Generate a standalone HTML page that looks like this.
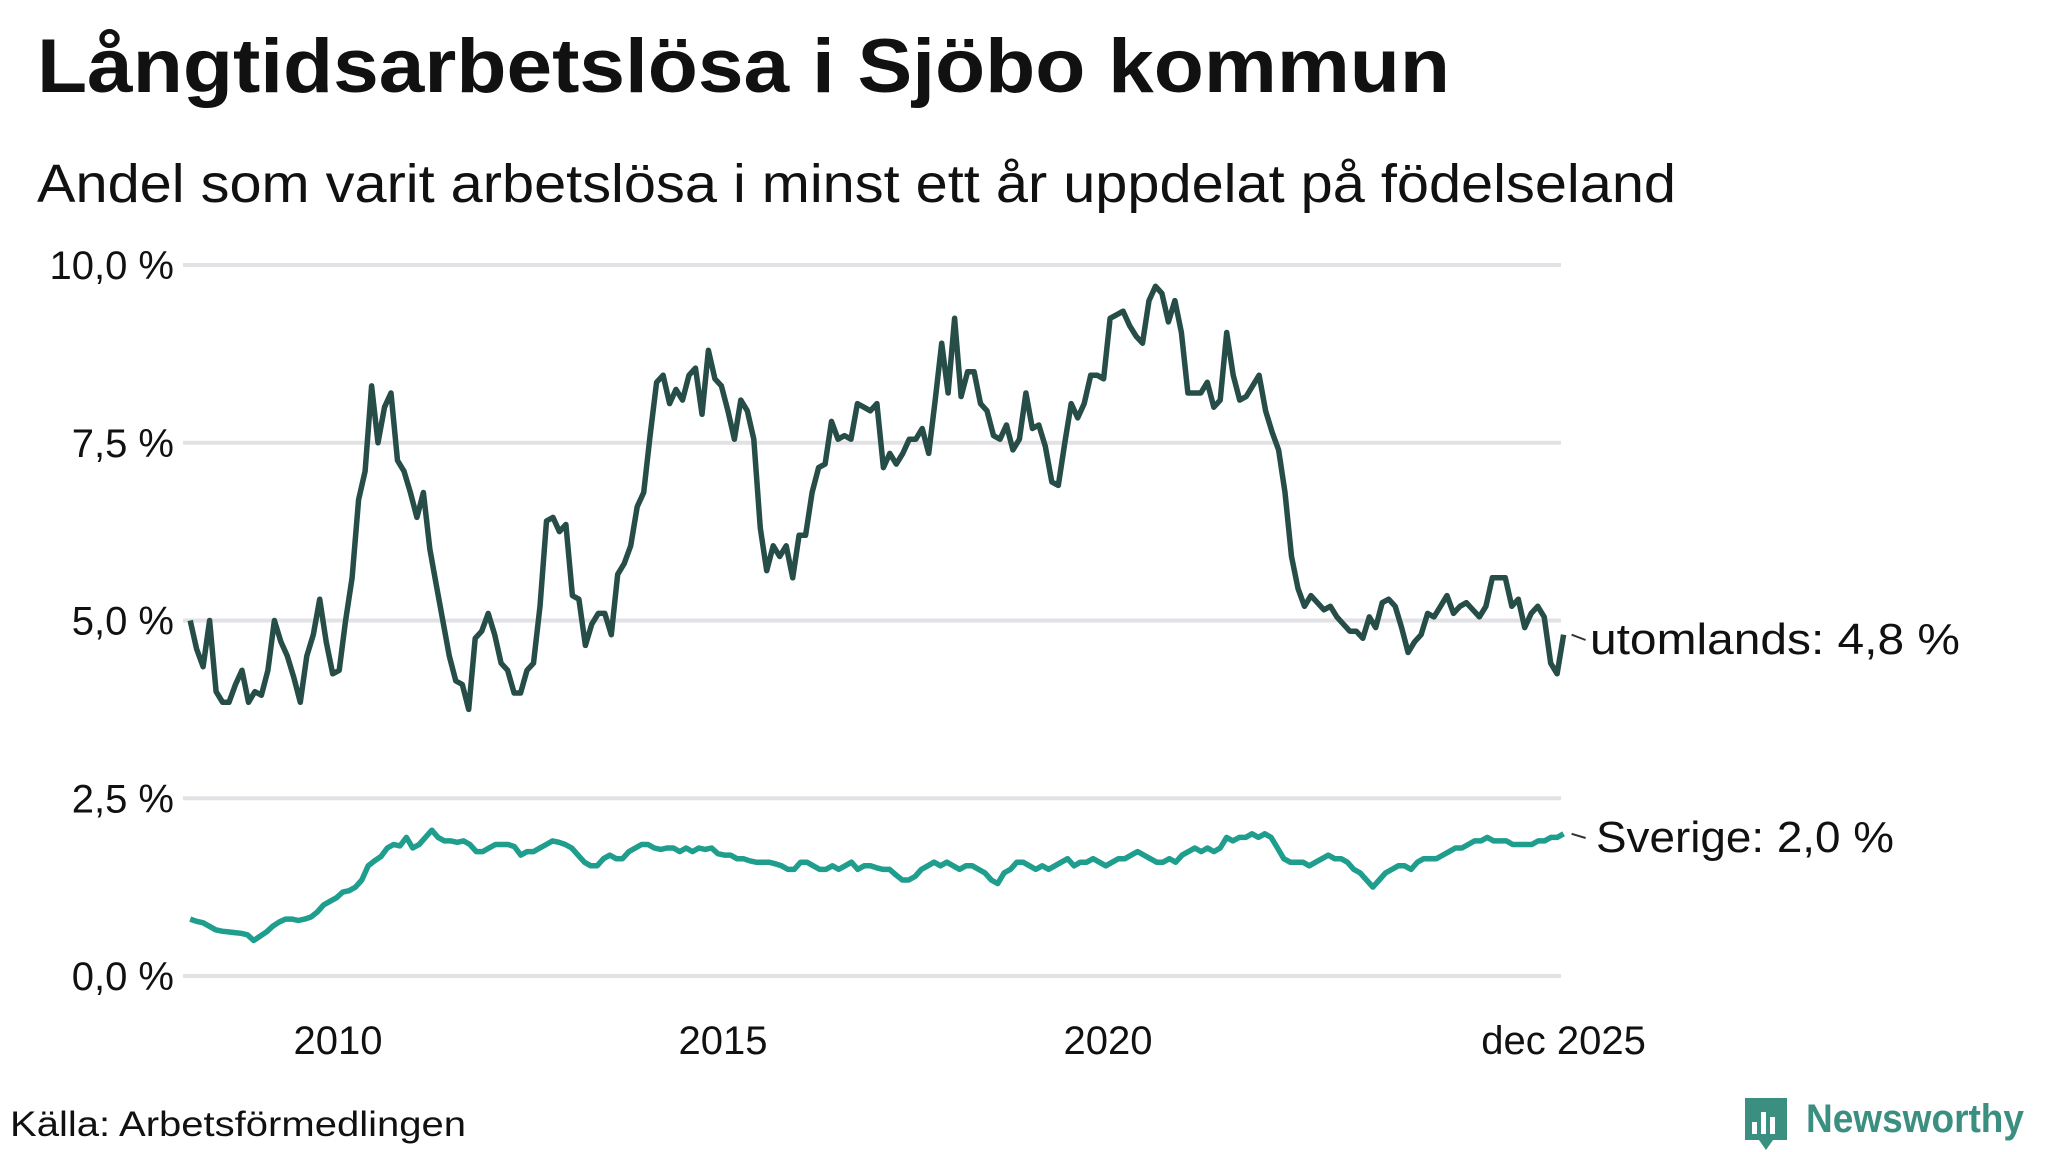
<!DOCTYPE html>
<html><head><meta charset="utf-8"><style>
html,body{margin:0;padding:0;background:#fff;}
svg{display:block;font-family:"Liberation Sans",sans-serif;}
</style></head><body>
<svg id="chart" width="2048" height="1152" viewBox="0 0 2048 1152">
<text x="37" y="92" font-size="76" font-weight="bold" fill="#111" textLength="1413" lengthAdjust="spacingAndGlyphs">Långtidsarbetslösa i Sjöbo kommun</text>
<text x="37" y="202" font-size="54" fill="#111" textLength="1639" lengthAdjust="spacingAndGlyphs">Andel som varit arbetslösa i minst ett år uppdelat på födelseland</text>
<g id="grid"></g>
<g id="yaxis"></g>
<g id="xaxis"></g>
<g id="lines"></g>
<g id="labels"></g>
<text x="10" y="1136" font-size="35" fill="#111" textLength="456" lengthAdjust="spacingAndGlyphs">Källa: Arbetsförmedlingen</text>
<g>
<path d="M1745 1098 h42 v42 h-14 l-7 10 l-7 -10 h-14 z" fill="#3a8f80"/>
<rect x="1752" y="1122" width="5" height="12" fill="#fff"/><rect x="1761" y="1112" width="5" height="22" fill="#fff"/><rect x="1770" y="1117" width="5" height="17" fill="#fff"/>
<text x="1806" y="1132" font-size="40" font-weight="bold" fill="#3a8f80" textLength="218" lengthAdjust="spacingAndGlyphs">Newsworthy</text>
</g>
</svg>
<script>
const yTicks = [0, 2.5, 5, 7.5, 10];
const yTickLabels = ["0,0 %", "2,5 %", "5,0 %", "7,5 %", "10,0 %"];
const xTicks = [2010, 2015, 2020, 2025.917];
const xTickLabels = ["2010", "2015", "2020", "dec 2025"];
const startTime = 2008.08;
const endTime = 2025.917;
const utomlands = [5.0,4.6,4.35,5.0,4.0,3.85,3.85,4.1,4.3,3.85,4.0,3.95,4.3,5.0,4.7,4.5,4.2,3.85,4.5,4.8,5.3,4.7,4.25,4.3,5.0,5.6,6.7,7.1,8.3,7.5,8.0,8.2,7.25,7.1,6.8,6.45,6.8,6.0,5.5,5.0,4.5,4.15,4.1,3.75,4.75,4.85,5.1,4.8,4.4,4.3,3.98,3.98,4.3,4.4,5.2,6.4,6.45,6.25,6.35,5.35,5.3,4.65,4.95,5.1,5.1,4.8,5.65,5.8,6.05,6.6,6.8,7.6,8.35,8.45,8.05,8.25,8.1,8.45,8.55,7.9,8.8,8.4,8.3,7.95,7.55,8.1,7.95,7.55,6.3,5.7,6.05,5.9,6.05,5.6,6.2,6.2,6.8,7.15,7.2,7.8,7.55,7.6,7.55,8.05,8.0,7.95,8.05,7.15,7.35,7.2,7.35,7.55,7.55,7.7,7.35,8.1,8.9,8.2,9.25,8.15,8.5,8.5,8.05,7.95,7.6,7.55,7.75,7.4,7.55,8.2,7.7,7.75,7.45,6.95,6.9,7.5,8.05,7.85,8.05,8.45,8.45,8.4,9.25,9.3,9.35,9.15,9.0,8.9,9.5,9.7,9.6,9.2,9.5,9.05,8.2,8.2,8.2,8.35,8.0,8.1,9.05,8.45,8.1,8.15,8.3,8.45,7.95,7.65,7.4,6.8,5.9,5.45,5.2,5.35,5.25,5.15,5.2,5.05,4.95,4.85,4.85,4.75,5.05,4.9,5.25,5.3,5.2,4.9,4.55,4.7,4.8,5.1,5.05,5.2,5.35,5.1,5.2,5.25,5.15,5.05,5.2,5.6,5.6,5.6,5.2,5.3,4.9,5.1,5.2,5.05,4.4,4.25,4.8];
const sverige = [0.8,0.77,0.75,0.7,0.65,0.63,0.62,0.61,0.6,0.58,0.5,0.56,0.62,0.7,0.76,0.8,0.8,0.78,0.8,0.83,0.9,1.0,1.05,1.1,1.18,1.2,1.25,1.35,1.55,1.62,1.68,1.8,1.85,1.83,1.95,1.8,1.85,1.95,2.05,1.95,1.9,1.9,1.88,1.9,1.85,1.75,1.75,1.8,1.85,1.85,1.85,1.82,1.7,1.75,1.75,1.8,1.85,1.9,1.88,1.85,1.8,1.7,1.6,1.55,1.55,1.65,1.7,1.65,1.65,1.75,1.8,1.85,1.85,1.8,1.78,1.8,1.8,1.75,1.8,1.75,1.8,1.78,1.8,1.72,1.7,1.7,1.65,1.65,1.62,1.6,1.6,1.6,1.58,1.55,1.5,1.5,1.6,1.6,1.55,1.5,1.5,1.55,1.5,1.55,1.6,1.5,1.55,1.55,1.52,1.5,1.5,1.42,1.35,1.35,1.4,1.5,1.55,1.6,1.55,1.6,1.55,1.5,1.55,1.55,1.5,1.45,1.35,1.3,1.45,1.5,1.6,1.6,1.55,1.5,1.55,1.5,1.55,1.6,1.65,1.55,1.6,1.6,1.65,1.6,1.55,1.6,1.65,1.65,1.7,1.75,1.7,1.65,1.6,1.6,1.65,1.6,1.7,1.75,1.8,1.75,1.8,1.75,1.8,1.95,1.9,1.95,1.95,2.0,1.95,2.0,1.95,1.8,1.65,1.6,1.6,1.6,1.55,1.6,1.65,1.7,1.65,1.65,1.6,1.5,1.45,1.35,1.25,1.35,1.45,1.5,1.55,1.55,1.5,1.6,1.65,1.65,1.65,1.7,1.75,1.8,1.8,1.85,1.9,1.9,1.95,1.9,1.9,1.9,1.85,1.85,1.85,1.85,1.9,1.9,1.95,1.95,2.0];
const seriesNames = ["utomlands", "Sverige"];
const seriesLabels = ["utomlands: 4,8 %", "Sverige: 2,0 %"];
const seriesColors = ["#264d47", "#1f9e8e"];

const NS = "http://www.w3.org/2000/svg";
const X0 = 183, X1 = 1561;
function xScale(t){ return 1108 + (t - 2020) * 77.0; }
function yScale(v){ return 976 - v * 71.1; }
function mk(tag, attrs, parent){ const e=document.createElementNS(NS,tag); for(const k in attrs) e.setAttribute(k,attrs[k]); parent.appendChild(e); return e; }

const grid=document.getElementById('grid'), yax=document.getElementById('yaxis'), xax=document.getElementById('xaxis');
yTicks.forEach((v,i)=>{
  const l=mk('line',{x1:X0,x2:X1,y1:yScale(v),y2:yScale(v),stroke:'#e2e2e6','stroke-width':4},grid);
  
  
  const t=mk('text',{x:174,y:yScale(v)+14,'font-size':40,fill:'#111','text-anchor':'end'},yax);
  t.textContent=yTickLabels[i];
  
  
});
xTicks.forEach((v,i)=>{
  const t=mk('text',{x:xScale(v),y:1054,'font-size':40,fill:'#111','text-anchor':'middle'},xax);
  t.textContent=xTickLabels[i];
  
  
});
const lines=document.getElementById('lines'), labels=document.getElementById('labels');
[utomlands, sverige].forEach((arr,si)=>{
  const n=arr.length;
  const pts=arr.map((v,i)=>[xScale(startTime+(endTime-startTime)*i/(n-1)), yScale(v)]);
  const p=mk('polyline',{points:pts.map(p=>p[0].toFixed(1)+','+p[1].toFixed(1)).join(' '),fill:'none',stroke:seriesColors[si],'stroke-width':5.5,'stroke-linejoin':'round'},lines);
  
  
  const last=pts[n-1];
  const ly = si===0 ? 640 : 838;
  const c=mk('line',{x1:last[0]+8,y1:last[1],x2:last[0]+22,y2:ly,stroke:'#333','stroke-width':2},labels);
  
  
  const t=mk('text',{x:si===0?1590:1596,y:ly+14,'font-size':44,fill:'#111',textLength:si===0?370:298,lengthAdjust:'spacingAndGlyphs'},labels);
  t.textContent=seriesLabels[si];
  
  
});
</script>
</body></html>
